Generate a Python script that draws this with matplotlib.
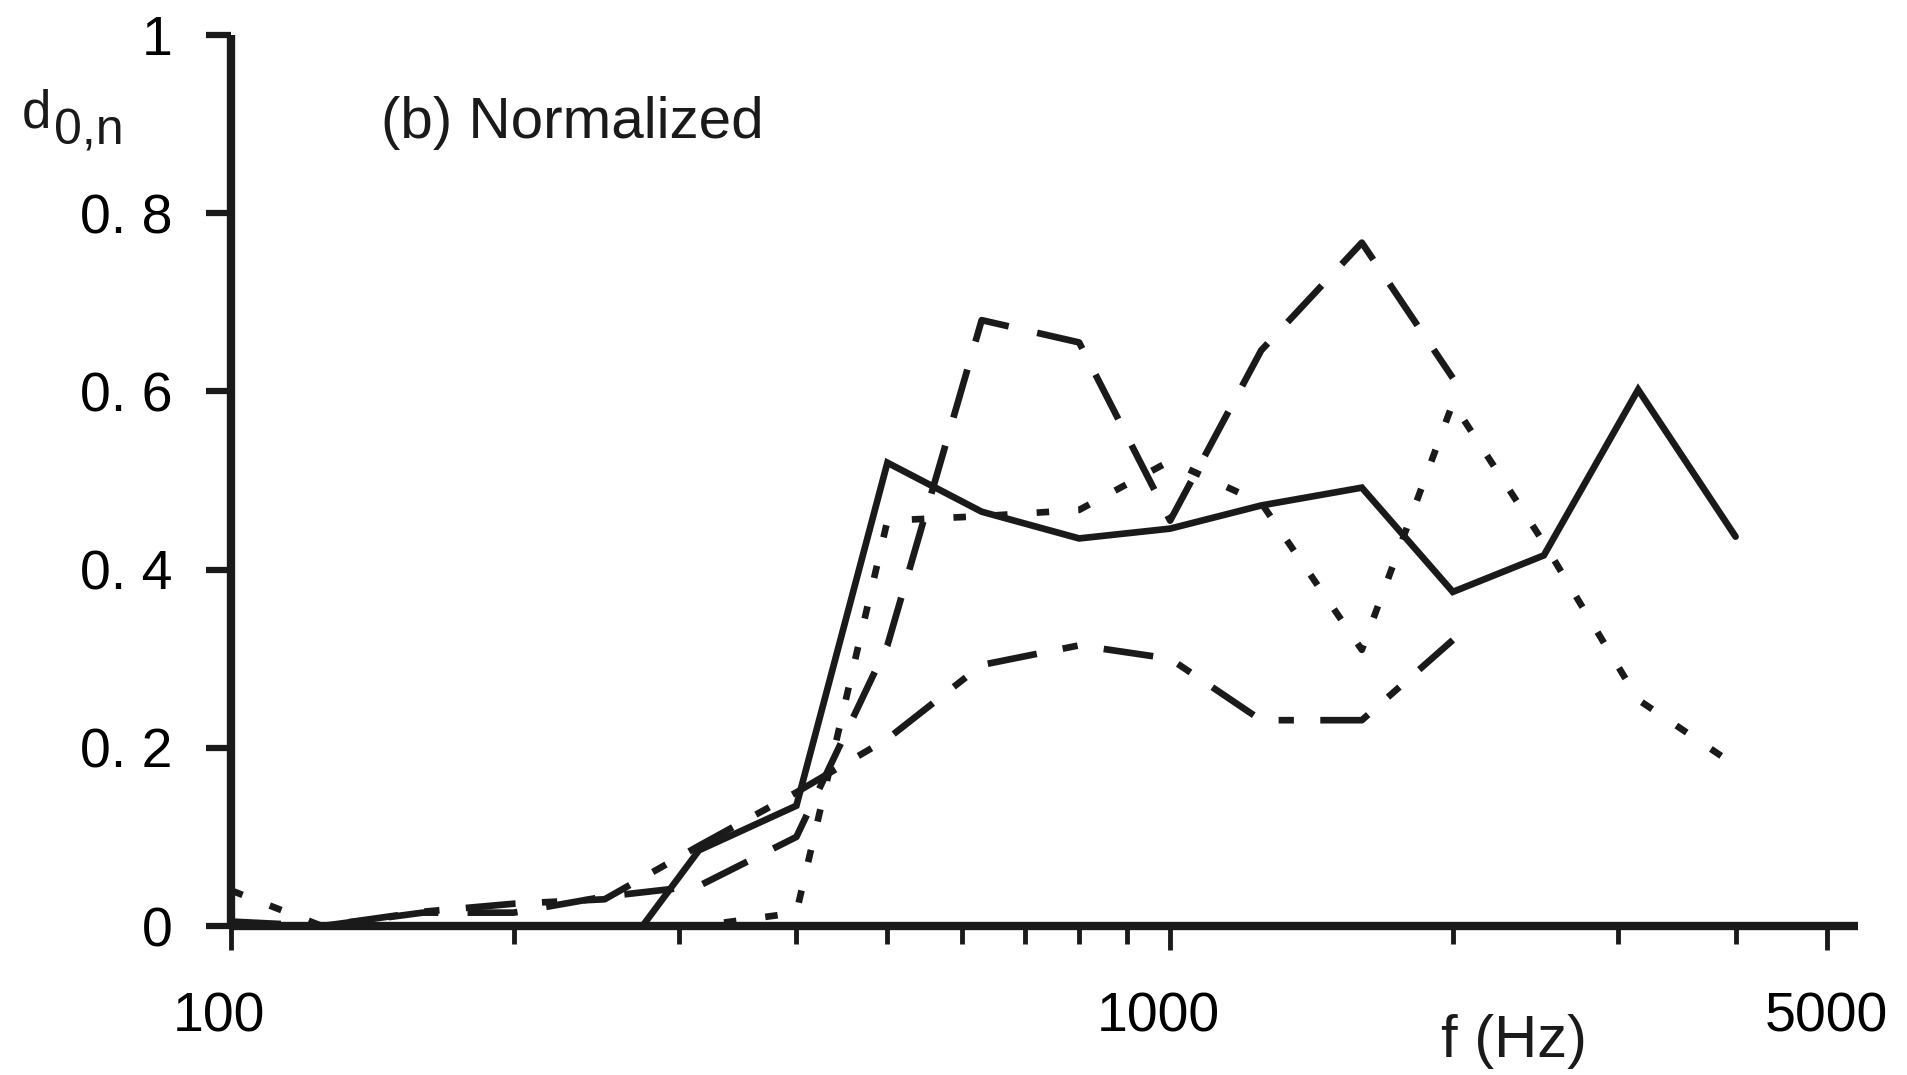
import numpy as np
import matplotlib
matplotlib.use("Agg")
import matplotlib.pyplot as plt
from matplotlib.ticker import FixedLocator, NullFormatter

plt.rcParams['font.family'] = ['Liberation Sans', 'DejaVu Sans']
plt.rcParams['lines.scale_dashes'] = False

# 1/3 octave band centre frequencies (Hz)
freq = [100, 125, 160, 200, 250, 315, 400, 500, 630, 800,
        1000, 1250, 1600, 2000, 2500, 3150, 4000]

# solid line (starts below zero at 250 Hz, clipped by the axis)
solid_f = [250, 315, 400, 500, 630, 800, 1000, 1250, 1600, 2000, 2500, 3150, 4000]
solid_d = [-0.057, 0.085, 0.135, 0.52, 0.465, 0.435, 0.446, 0.472, 0.492, 0.375, 0.416, 0.602, 0.437]

# long dashes
longdash_f = [100, 125, 160, 200, 250, 315, 400, 500, 630, 800, 1000, 1250, 1600, 2000]
longdash_d = [0.0, 0.0, 0.015, 0.015, 0.033, 0.045, 0.10, 0.315, 0.68, 0.655, 0.455, 0.646, 0.767, 0.615]

# short dashes
dot_f = [100, 125, 160, 200, 250, 315, 400, 500, 630, 800, 1000, 1250, 1600, 2000, 2500, 3150, 4000]
dot_d = [0.04, 0.0, 0.0, 0.0, 0.0, 0.0, 0.015, 0.455, 0.46, 0.467, 0.522, 0.475, 0.31, 0.587, 0.43, 0.254, 0.18]

# dash-dot
dashdot_f = [100, 125, 160, 200, 250, 315, 400, 500, 630, 800, 1000, 1250, 1600, 2000]
dashdot_d = [0.005, 0.0, 0.016, 0.025, 0.03, 0.09, 0.15, 0.21, 0.293, 0.315, 0.30, 0.231, 0.231, 0.321]

yticks = [0, 0.2, 0.4, 0.6, 0.8, 1]
ytick_labels = ["0", "0. 2", "0. 4", "0. 6", "0. 8", "1"]
xticks = [100, 1000, 5000]
xtick_labels = ["100", "1000", "5000"]
xminor = [200, 300, 400, 500, 600, 700, 800, 900, 2000, 3000, 4000]

fig = plt.figure(figsize=(19.07, 10.75), dpi=100)
ax = fig.add_axes([0.1211, 0.1386, 0.9743 - 0.1211, 0.9674 - 0.1386])

lw = 4.8
col = '#1a1a1a'
ax.plot(solid_f, solid_d, color=col, lw=lw, solid_capstyle='round', solid_joinstyle='miter')
ax.plot(longdash_f, longdash_d, color=col, lw=lw, linestyle=(0, (36, 21)),
        dash_capstyle='butt')
ax.plot(dot_f, dot_d, color=col, lw=lw, linestyle=(0, (9, 21)),
        dash_capstyle='butt')
ax.plot(dashdot_f, dashdot_d, color=col, lw=lw, linestyle=(0, (36, 19, 11, 19)),
        dash_capstyle='butt')

ax.set_xscale('log')
ax.set_xlim(100, 5400)
ax.set_ylim(0, 1)

ax.xaxis.set_major_locator(FixedLocator(xticks))
ax.set_xticklabels(xtick_labels)
ax.xaxis.set_minor_locator(FixedLocator(xminor))
ax.xaxis.set_minor_formatter(NullFormatter())
ax.set_yticks(yticks)
ax.set_yticklabels(ytick_labels)

for s in ['top', 'right']:
    ax.spines[s].set_visible(False)
for s in ['left', 'bottom']:
    ax.spines[s].set_linewidth(6)
    ax.spines[s].set_color(col)
    ax.spines[s].set_capstyle('butt')

ax.tick_params(axis='x', which='major', direction='out', length=17, width=3.5,
               color=col, labelsize=40, pad=30)
ax.tick_params(axis='x', which='minor', direction='out', length=13, width=3.5, color=col)
ax.tick_params(axis='y', which='major', direction='out', length=18, width=4.5,
               color=col, labelsize=40, pad=24)

# nudge the first two x labels a little left, as in the original
for lab, dx in zip(ax.get_xticklabels(), [-12, -12, 0]):
    lab.set_x(lab.get_position()[0])
    lab.set_transform(lab.get_transform() + matplotlib.transforms.ScaledTranslation(dx / 100, 0, fig.dpi_scale_trans))

# y label d with subscript 0,n
fig.text(0.0115, 0.881, 'd', fontsize=38, ha='left', va='baseline', color=col)
fig.text(0.0285, 0.866, '0,n', fontsize=36, ha='left', va='baseline', color=col)
fig.text(0.2, 0.886, '(b) Normalized', fontsize=42, ha='left', va='center', color=col)
fig.text(0.7555, 0.031, 'f (Hz)', fontsize=43, ha='left', va='center', color=col)

fig.savefig('out.png', dpi=100)
